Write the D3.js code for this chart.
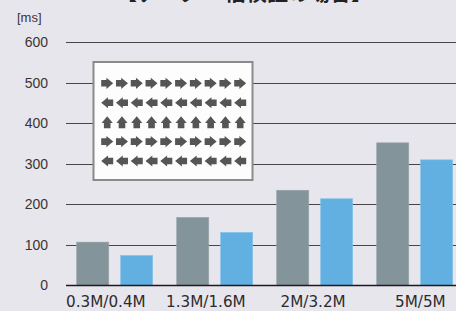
<!DOCTYPE html>
<html><head><meta charset="utf-8">
<script src="https://cdn.jsdelivr.net/npm/d3@7"></script>
<style>
html,body{margin:0;padding:0;background:#e7e6ec;}
svg{display:block;}
</style></head>
<body>
<svg id="c" width="456" height="311"></svg>
<script>
const categories = ["0.3M/0.4M", "1.3M/1.6M", "2M/3.2M", "5M/5M"];
const seriesA = [107, 168, 235, 352];   // gray
const seriesB = [74, 131, 214, 310];    // blue
const yTicks = [0, 100, 200, 300, 400, 500, 600];
const unitLabel = "[ms]";
const titleText = "【データ30倍検証の場合】";
const arrowRows = ["right", "left", "up", "right", "left"];
const arrowsPerRow = 10;

const svg = d3.select("#c");
const W = 456, H = 311;
svg.append("rect").attr("width", W).attr("height", H).attr("fill", "#e7e6ec");

const font = "'Liberation Sans', Arial, sans-serif";

const y = d3.scaleLinear().domain([0, 600]).range([285.5, 42.3]);
const x0 = d3.scaleBand().domain(categories).range([66.7, 466.7]).paddingInner(0).paddingOuter(0);
const x1 = d3.scaleBand().domain(["A", "B"]).range([10, 86]).paddingInner(0.27);

// title (cut off at top, as in the reference)
svg.append("text").attr("x", 244).attr("y", -0.5).attr("text-anchor", "middle")
  .attr("font-family", "'Noto Sans CJK JP', sans-serif").attr("font-weight", "bold")
  .attr("font-size", 21).attr("fill", "#222").text(titleText);

// grid lines
svg.append("g").selectAll("line").data(yTicks.filter(d => d > 0)).join("line")
  .attr("x1", 66).attr("x2", W).attr("y1", d => Math.round(y(d)) + 0.5).attr("y2", d => Math.round(y(d)) + 0.5)
  .attr("stroke", "#4a4446").attr("stroke-width", 1);

// y tick labels
svg.append("g").selectAll("text").data(yTicks).join("text")
  .attr("x", 48).attr("y", d => y(d)).attr("dy", "0.35em").attr("text-anchor", "end")
  .attr("font-family", font).attr("font-size", 14).attr("fill", "#3a3434").text(d => d);

svg.append("text").attr("x", 17).attr("y", 22).attr("font-family", font)
  .attr("font-size", 13).attr("fill", "#3a3434").text(unitLabel);

// bars
const groups = svg.append("g").selectAll("g").data(categories).join("g")
  .attr("transform", d => `translate(${x0(d)},0)`);
groups.append("rect")
  .attr("x", x1("A")).attr("width", x1.bandwidth())
  .attr("y", (d, i) => y(seriesA[i])).attr("height", (d, i) => y(0) - y(seriesA[i]))
  .attr("fill", "#84949b").attr("stroke", "#98a6ac").attr("stroke-width", 0.6);
groups.append("rect")
  .attr("x", x1("B")).attr("width", x1.bandwidth())
  .attr("y", (d, i) => y(seriesB[i])).attr("height", (d, i) => y(0) - y(seriesB[i]))
  .attr("fill", "#62b0e2").attr("stroke", "#84c2ea").attr("stroke-width", 0.6);

// baseline
svg.append("line").attr("x1", 66).attr("x2", W).attr("y1", y(0)).attr("y2", y(0))
  .attr("stroke", "#1e1a1c").attr("stroke-width", 1.3);

// category labels
svg.append("g").selectAll("text").data(categories).join("text")
  .attr("x", d => x0(d) + 79).attr("y", 307).attr("text-anchor", "end")
  .attr("font-family", "'DejaVu Sans', sans-serif").attr("font-size", 15.2)
  .attr("fill", "#2e2a2c").text(d => d);

// inset box
const box = svg.append("g");
box.append("rect").attr("x", 93.5).attr("y", 62).attr("width", 159).attr("height", 118)
  .attr("fill", "#fdfdfd").attr("stroke", "#8a8a8a").attr("stroke-width", 2);

const ax = d3.scaleLinear().domain([0, arrowsPerRow - 1]).range([107.2, 240.2]);
const ay = d3.scalePoint().domain(d3.range(arrowRows.length)).range([83.3, 161]);
const arrowPath = "M-6,-3.3 L-0.8,-3.3 L-0.8,-5.6 L6,0 L-0.8,5.6 L-0.8,3.3 L-6,3.3 Z";
const rot = {right: 0, left: 180, up: -90};
arrowRows.forEach((dir, r) => {
  box.append("g").selectAll("path").data(d3.range(arrowsPerRow)).join("path")
    .attr("d", arrowPath)
    .attr("transform", i => `translate(${ax(i)},${ay(r)}) rotate(${rot[dir]})`)
    .attr("fill", "#555555");
});
</script>
</body></html>
